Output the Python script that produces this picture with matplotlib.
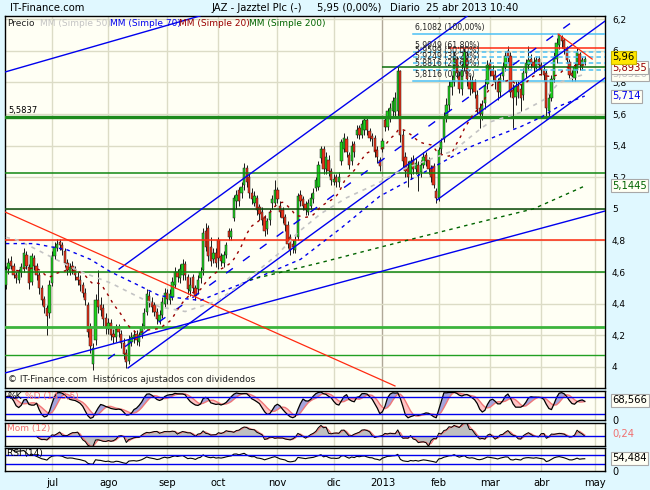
import matplotlib
matplotlib.use('Agg')
import matplotlib.pyplot as plt
import numpy as np
import pandas as pd

plt.rcParams['font.family'] = 'DejaVu Sans'

# ---- data: JAZ daily candles, 6 jun 2012 .. 25 abr 2013 ----
holidays = ['2012-12-25', '2012-12-26', '2013-01-01', '2013-03-29', '2013-04-01']

opens = [4.52, 4.62, 4.67, 4.64, 4.58, 4.55, 4.60, 4.62, 4.71, 4.63,
         4.54, 4.69, 4.64, 4.58, 4.50, 4.43, 4.37, 4.34, 4.53, 4.70,
         4.75, 4.79, 4.77, 4.73, 4.66, 4.60, 4.64, 4.62, 4.57, 4.55,
         4.52, 4.47, 4.39, 4.25, 4.02, 4.17, 4.42, 4.39, 4.37, 4.31,
         4.24, 4.28, 4.21, 4.19, 4.25, 4.21, 4.15, 4.09, 4.04, 4.16,
         4.18, 4.21, 4.16, 4.20, 4.26, 4.35, 4.45, 4.41, 4.39, 4.35,
         4.29, 4.33, 4.40, 4.47, 4.42, 4.44, 4.52, 4.60, 4.56, 4.58,
         4.65, 4.57, 4.48, 4.57, 4.50, 4.49, 4.56, 4.61, 4.86, 4.88,
         4.76, 4.68, 4.72, 4.80, 4.70, 4.66, 4.71, 4.86, 4.82, 4.94,
         5.05, 5.12, 5.10, 5.15, 5.26, 5.20, 5.10, 5.04, 5.07, 5.01,
         4.98, 4.94, 4.87, 4.93, 5.04, 5.04, 5.12, 5.02, 4.99, 4.95,
         4.90, 4.82, 4.78, 4.74, 4.82, 5.09, 5.06, 5.03, 4.98, 5.02,
         5.06, 5.13, 5.14, 5.32, 5.38, 5.25, 5.31, 5.24, 5.17, 5.20,
         5.17, 5.30, 5.38, 5.44, 5.34, 5.30, 5.41, 5.47, 5.51, 5.47,
         5.50, 5.56, 5.49, 5.46, 5.45, 5.37, 5.31, 5.38, 5.56, 5.52,
         5.57, 5.62, 5.61, 5.62, 5.87, 5.47, 5.33, 5.26, 5.22, 5.31,
         5.25, 5.28, 5.23, 5.28, 5.34, 5.31, 5.26, 5.27, 5.11, 5.07,
         5.38, 5.44, 5.59, 5.66, 5.77, 5.80, 5.95, 5.84, 5.76, 5.90,
         5.97, 5.81, 5.76, 5.80, 5.72, 5.64, 5.60, 5.67, 5.79, 5.92,
         5.88, 5.85, 5.81, 5.74, 5.84, 5.90, 6.00, 5.97, 5.75, 5.71,
         5.78, 5.76, 5.72, 5.86, 5.91, 5.95, 5.93, 5.89, 5.95, 5.91,
         5.88, 5.86, 5.62, 5.70, 5.82, 5.95, 6.04, 6.09, 6.07, 6.02,
         5.93, 5.86, 5.83, 5.88, 5.98, 5.90, 5.93]
highs = [4.64, 4.69, 4.70, 4.66, 4.60, 4.62, 4.66, 4.75, 4.73, 4.65,
         4.72, 4.71, 4.66, 4.60, 4.52, 4.45, 4.39, 4.55, 4.73, 4.79,
         4.81, 4.81, 4.79, 4.75, 4.68, 4.66, 4.67, 4.64, 4.60, 4.58,
         4.54, 4.50, 4.41, 4.28, 4.15, 4.46, 4.61, 4.44, 4.40, 4.34,
         4.31, 4.30, 4.24, 4.27, 4.27, 4.23, 4.18, 4.11, 4.20, 4.22,
         4.23, 4.23, 4.22, 4.28, 4.37, 4.49, 4.48, 4.44, 4.41, 4.37,
         4.36, 4.44, 4.50, 4.49, 4.49, 4.57, 4.63, 4.62, 4.65, 4.68,
         4.67, 4.59, 4.57, 4.59, 4.52, 4.58, 4.63, 4.88, 4.91, 4.90,
         4.82, 4.75, 4.75, 4.82, 4.72, 4.73, 4.79, 4.88, 4.88, 5.09,
         5.12, 5.14, 5.17, 5.29, 5.28, 5.22, 5.13, 5.11, 5.09, 5.03,
         5.01, 4.96, 4.94, 5.00, 5.09, 5.18, 5.14, 5.05, 5.01, 4.97,
         4.92, 4.84, 4.80, 4.83, 5.10, 5.12, 5.08, 5.05, 5.06, 5.10,
         5.13, 5.20, 5.30, 5.40, 5.40, 5.36, 5.34, 5.26, 5.22, 5.22,
         5.23, 5.44, 5.48, 5.46, 5.36, 5.43, 5.43, 5.53, 5.53, 5.56,
         5.59, 5.58, 5.51, 5.48, 5.47, 5.40, 5.33, 5.45, 5.58, 5.64,
         5.67, 5.71, 5.74, 5.90, 5.88, 5.50, 5.36, 5.30, 5.33, 5.34,
         5.32, 5.30, 5.31, 5.36, 5.36, 5.33, 5.28, 5.29, 5.13, 5.39,
         5.45, 5.61, 5.70, 5.81, 5.85, 6.00, 5.97, 5.87, 5.92, 6.02,
         6.00, 5.85, 5.84, 5.82, 5.75, 5.67, 5.69, 5.82, 5.94, 5.95,
         5.91, 5.88, 5.83, 5.86, 5.93, 6.00, 6.03, 5.99, 5.79, 5.81,
         5.81, 5.79, 5.89, 5.95, 6.03, 5.98, 5.96, 5.97, 5.97, 5.93,
         5.91, 5.88, 5.73, 5.85, 5.99, 6.08, 6.11, 6.10, 6.08, 6.03,
         5.95, 5.88, 5.92, 6.02, 5.99, 5.96, 5.97]
lows = [4.49, 4.59, 4.62, 4.56, 4.53, 4.53, 4.57, 4.60, 4.62, 4.49,
        4.52, 4.61, 4.55, 4.46, 4.39, 4.34, 4.20, 4.31, 4.51, 4.68,
        4.73, 4.74, 4.71, 4.63, 4.58, 4.58, 4.59, 4.55, 4.52, 4.48,
        4.44, 4.39, 4.19, 4.09, 3.98, 4.14, 4.34, 4.32, 4.26, 4.21,
        4.21, 4.17, 4.15, 4.16, 4.19, 4.12, 4.05, 3.99, 4.02, 4.13,
        4.15, 4.14, 4.13, 4.18, 4.24, 4.33, 4.38, 4.35, 4.32, 4.27,
        4.27, 4.31, 4.38, 4.40, 4.40, 4.42, 4.50, 4.54, 4.53, 4.55,
        4.55, 4.46, 4.45, 4.47, 4.42, 4.46, 4.53, 4.58, 4.73, 4.67,
        4.64, 4.66, 4.63, 4.62, 4.64, 4.63, 4.69, 4.80, 4.80, 4.92,
        5.00, 5.02, 5.07, 5.12, 5.14, 5.07, 5.03, 5.02, 4.96, 4.93,
        4.90, 4.83, 4.84, 4.90, 5.00, 5.02, 5.04, 4.95, 4.91, 4.86,
        4.75, 4.71, 4.72, 4.72, 4.80, 5.02, 4.99, 4.96, 4.96, 5.00,
        5.04, 5.11, 5.12, 5.29, 5.22, 5.22, 5.21, 5.15, 5.15, 5.14,
        5.14, 5.28, 5.36, 5.33, 5.25, 5.28, 5.33, 5.45, 5.44, 5.45,
        5.47, 5.47, 5.43, 5.40, 5.33, 5.29, 5.24, 5.36, 5.49, 5.50,
        5.55, 5.59, 5.58, 5.59, 5.42, 5.26, 5.20, 5.14, 5.19, 5.22,
        5.22, 5.11, 5.20, 5.26, 5.27, 5.22, 5.17, 5.13, 5.04, 5.05,
        5.34, 5.42, 5.55, 5.62, 5.72, 5.78, 5.83, 5.73, 5.72, 5.87,
        5.78, 5.72, 5.73, 5.70, 5.60, 5.51, 5.56, 5.63, 5.76, 5.84,
        5.81, 5.76, 5.69, 5.71, 5.81, 5.87, 5.93, 5.71, 5.51, 5.66,
        5.70, 5.62, 5.69, 5.83, 5.88, 5.89, 5.86, 5.87, 5.88, 5.85,
        5.81, 5.57, 5.59, 5.68, 5.80, 5.92, 6.01, 6.02, 5.98, 5.92,
        5.83, 5.81, 5.81, 5.86, 5.88, 5.88, 5.91]
closes = [4.61, 4.66, 4.64, 4.58, 4.56, 4.60, 4.63, 4.72, 4.64, 4.53,
          4.70, 4.64, 4.58, 4.50, 4.42, 4.38, 4.32, 4.52, 4.70, 4.76,
          4.78, 4.77, 4.74, 4.66, 4.61, 4.63, 4.62, 4.58, 4.55, 4.52,
          4.47, 4.42, 4.22, 4.13, 4.12, 4.42, 4.38, 4.36, 4.30, 4.25,
          4.28, 4.20, 4.19, 4.24, 4.22, 4.15, 4.08, 4.03, 4.17, 4.19,
          4.20, 4.17, 4.20, 4.25, 4.34, 4.46, 4.41, 4.38, 4.35, 4.30,
          4.33, 4.41, 4.47, 4.43, 4.46, 4.54, 4.60, 4.57, 4.62, 4.65,
          4.58, 4.49, 4.52, 4.50, 4.45, 4.55, 4.60, 4.85, 4.76, 4.70,
          4.67, 4.72, 4.66, 4.69, 4.67, 4.71, 4.77, 4.82, 4.86, 5.07,
          5.09, 5.05, 5.14, 5.26, 5.17, 5.10, 5.06, 5.08, 4.99, 4.97,
          4.93, 4.86, 4.92, 4.98, 5.06, 5.12, 5.06, 4.98, 4.94, 4.90,
          4.78, 4.74, 4.76, 4.80, 5.08, 5.05, 5.02, 4.99, 5.04, 5.07,
          5.10, 5.18, 5.28, 5.38, 5.25, 5.33, 5.24, 5.18, 5.19, 5.17,
          5.20, 5.42, 5.45, 5.36, 5.28, 5.40, 5.36, 5.50, 5.47, 5.54,
          5.56, 5.50, 5.45, 5.44, 5.36, 5.33, 5.27, 5.43, 5.52, 5.62,
          5.64, 5.68, 5.70, 5.87, 5.47, 5.30, 5.24, 5.20, 5.30, 5.25,
          5.29, 5.22, 5.28, 5.33, 5.30, 5.25, 5.20, 5.15, 5.07, 5.37,
          5.42, 5.58, 5.66, 5.78, 5.80, 5.97, 5.86, 5.76, 5.88, 5.99,
          5.82, 5.76, 5.80, 5.74, 5.63, 5.60, 5.66, 5.78, 5.91, 5.88,
          5.84, 5.80, 5.74, 5.83, 5.90, 5.97, 5.96, 5.74, 5.70, 5.78,
          5.74, 5.70, 5.86, 5.92, 5.94, 5.92, 5.90, 5.94, 5.91, 5.88,
          5.85, 5.64, 5.70, 5.82, 5.96, 6.05, 6.10, 6.06, 6.01, 5.94,
          5.85, 5.84, 5.90, 5.99, 5.91, 5.94, 5.95]

# moving averages (day index, value)
sma50_idx = [0, 5, 28, 41, 52, 60, 70, 83, 94, 106, 114, 123, 133, 145, 155, 175, 184, 189, 201, 210, 216, 226]
sma50_val = [4.82, 4.80, 4.61, 4.53, 4.44, 4.38, 4.35, 4.42, 4.55, 4.71, 4.85, 4.97, 5.07, 5.16, 5.25, 5.37, 5.49, 5.55, 5.61, 5.69, 5.80, 5.8526]
sma70_idx = [0, 11, 24, 33, 41, 50, 60, 76, 88, 99, 115, 131, 146, 162, 181, 193, 201, 209, 216, 226]
sma70_val = [4.78, 4.78, 4.74, 4.68, 4.60, 4.53, 4.45, 4.42, 4.50, 4.57, 4.68, 4.88, 5.08, 5.22, 5.39, 5.47, 5.52, 5.58, 5.65, 5.714]
sma200_idx = [95, 123, 154, 181, 206, 226]
sma200_val = [4.55, 4.66, 4.79, 4.90, 5.00, 5.1445]

# horizontal levels drawn on the chart (value, first day index)
support_vals = [5.5837, 5.898, 5.227, 5.00, 4.80, 4.60, 4.252, 4.075, 6.018]
support_from = [-1, 147, -1, -1, -1, -1, -1, -1, 172.6]

# fibonacci retracement
fib_hi = 6.1082
fib_lo = 5.8116
fib_ratios = [1.0, 0.618, 0.5, 0.382, 0.236, 0.0]
fib_from = 159

# trend lines (i0, p0, i1, p1)
blue_lines = [(-0.35, 5.866, 75.8, 6.221),
              (44.2, 4.619, 181.2, 6.233),
              (47.7, 3.993, 233.9, 6.188),
              (-0.35, 3.961, 233.9, 4.986),
              (168.3, 5.056, 233.9, 5.829)]
blue_dashed = [(39.9, 4.05, 223.4, 6.21)]
red_lines = [(-0.35, 4.980, 151.9, 3.879),
             (215.6, 6.106, 228.9, 5.948)]

last_price = 5.96
last_sma20 = 5.8935
last_stoch = 68.566
last_mom = 0.24
last_rsi = 54.484

month_names = ['ene', 'feb', 'mar', 'abr', 'may', 'jun', 'jul', 'ago', 'sep', 'oct', 'nov', 'dic']


def coma(v, nd):
    return f'{v:.{nd}f}'.replace('.', ',')


def box(x0, y0, x1, y1):
    return [x0 / 650, 1 - y1 / 490, (x1 - x0) / 650, (y1 - y0) / 490]


BG = '#e0f8ff'
PANEL = '#fffff4'
GRID = '#dcdcc6'
FS = 6.5

o = np.array(opens)
h = np.array(highs)
l = np.array(lows)
c = pd.Series(closes)
x = np.arange(len(closes))

days = pd.bdate_range('2012-06-06', '2013-05-31', freq='C', holidays=holidays)
ticks = [i for i in range(1, len(days)) if days[i].month != days[i - 1].month and i <= 232]
tick_lab = ['2013' if days[i].month == 1 else month_names[days[i].month - 1] for i in ticks]

fig = plt.figure(figsize=(6.5, 4.9), dpi=100, facecolor=BG)
ax = fig.add_axes(box(5, 16, 605, 388))
ax_st = fig.add_axes(box(5, 391, 605, 420))
ax_mo = fig.add_axes(box(5, 423, 605, 446))
ax_rs = fig.add_axes(box(5, 448, 605, 471))

for a in (ax, ax_st, ax_mo, ax_rs):
    a.set_facecolor(PANEL)
    a.set_xlim(-0.35, 233.9)
    for s in a.spines.values():
        s.set_color('black')
        s.set_linewidth(1.0)
    for t in ticks:
        col = '#b0a898' if days[t].month == 1 else GRID
        a.axvline(t, color=col, lw=1.0, zorder=0)
    a.tick_params(length=0, labelsize=FS)
    a.set_xticks([])
    a.yaxis.tick_right()

# ---- main price panel ----
ax.set_ylim(5.5837 - 271.4 / 158, 5.5837 + 100.6 / 158)
for v in np.arange(4.0, 6.21, 0.2):
    ax.axhline(v, color=GRID, lw=1.0, zorder=0)
yt = np.round(np.arange(4.0, 6.21, 0.2), 1)
ax.set_yticks(yt)
ax.set_yticklabels([f'{v:g}'.replace('.', ',') for v in yt])
ax.tick_params(axis='y', pad=5)

ax.vlines(x, l, h, color='#1a1a1a', lw=0.7, zorder=3)
up = c.values >= o
ax.bar(x, np.maximum(np.abs(c.values - o), 0.006), bottom=np.minimum(o, c.values), width=0.9,
       color=np.where(up, '#1ed21e', '#ee3318'), edgecolor='#1a1a1a', linewidth=0.35, zorder=4)

lv_style = [dict(color='#1c8a1c', lw=2.4), dict(color='#0b6e0b', lw=1.1), dict(color='#118811', lw=1.1),
            dict(color='#0a4a0a', lw=1.1), dict(color='#ff2a10', lw=1.1), dict(color='#118811', lw=1.1),
            dict(color='#3cb43c', lw=2.0), dict(color='#22a022', lw=1.0), dict(color='#ff2a10', lw=1.1)]
for v, start, st in zip(support_vals, support_from, lv_style):
    ax.plot([start, 234], [v, v], zorder=5, solid_capstyle='butt', **st)
ax.text(1, 5.5837 + 0.012, coma(5.5837, 4), fontsize=6, va='bottom', ha='left', zorder=8)

for r in fib_ratios:
    v = fib_lo + r * (fib_hi - fib_lo)
    ls = '-' if r in (0.0, 1.0) else (0, (3, 2))
    ax.plot([fib_from, 234], [v, v], color='#4cc0f4', lw=1.1, ls=ls, zorder=5)
    ax.text(fib_from + 0.8, v + 0.012, f'{coma(v, 4)} ({coma(r * 100, 2)}%)', fontsize=5.6,
            va='bottom', ha='left', color='#222222', zorder=8)

for i0, p0, i1, p1 in blue_lines:
    ax.plot([i0, i1], [p0, p1], color='#0000ee', lw=1.0, zorder=5)
for i0, p0, i1, p1 in blue_dashed:
    ax.plot([i0, i1], [p0, p1], color='#0000ee', lw=1.0, ls=(0, (6, 9)), zorder=5)
for i0, p0, i1, p1 in red_lines:
    ax.plot([i0, i1], [p0, p1], color='#ff2a10', lw=0.9, zorder=5)

sma20 = c.rolling(20, min_periods=5).mean()
ax.plot(x, sma20, color='#990000', lw=1.0, ls=(0, (2, 3.5)), zorder=6)
ax.plot(sma50_idx, sma50_val, color='#c4c4c4', lw=1.2, ls=(0, (2.5, 3)), zorder=6)
ax.plot(sma70_idx, sma70_val, color='#0000ee', lw=1.0, ls=(0, (2.5, 3)), zorder=6)
ax.plot(sma200_idx, sma200_val, color='#006400', lw=1.0, ls=(0, (2.5, 3)), zorder=6)

ax.text(1, 3.893, '\u00a9 IT-Finance.com  Hist\u00f3ricos ajustados con dividendos', fontsize=FS,
        ha='left', va='bottom', color='#222222', zorder=8)

ytr = ax.get_yaxis_transform()
bx = dict(boxstyle='square,pad=0.15', fc='#fffff4', ec='#a8a8a8', lw=0.8)
ax.text(1.012, sma200_val[-1], coma(sma200_val[-1], 4), transform=ytr, fontsize=7.2, color='#006400',
        va='center', ha='left', bbox=bx, clip_on=False, zorder=9)
ax.text(1.012, sma70_val[-1], coma(sma70_val[-1], 3), transform=ytr, fontsize=7.2, color='#0000ee',
        va='center', ha='left', bbox=bx, clip_on=False, zorder=9)
ax.text(1.012, sma50_val[-1], coma(sma50_val[-1], 4), transform=ytr, fontsize=7.2, color='#c4c4c4',
        va='center', ha='left', bbox=bx, clip_on=False, zorder=9)
ax.text(1.012, last_sma20, coma(last_sma20, 4), transform=ytr, fontsize=7.2, color='#990000',
        va='center', ha='left', bbox=bx, clip_on=False, zorder=10)
ax.text(1.012, last_price, coma(last_price, 2), transform=ytr, fontsize=7.2, color='black',
        va='center', ha='left', clip_on=False, zorder=11,
        bbox=dict(boxstyle='square,pad=0.15', fc='#ffe600', ec='#c8b400', lw=0.8))

# ---- stochastic ----
ll = pd.Series(lows).rolling(14, min_periods=1).min()
hh = pd.Series(highs).rolling(14, min_periods=1).max()
rawk = 100 * (c - ll) / (hh - ll)
k = rawk.rolling(3, min_periods=1).mean()
d = k.rolling(5, min_periods=1).mean()
ax_st.set_ylim(0, 100)
ax_st.fill_between(x, k, d, where=k >= d, color='#a4a4dc', interpolate=True, lw=0)
ax_st.fill_between(x, k, d, where=k < d, color='#ffc4c4', interpolate=True, lw=0)
ax_st.plot(x, d, color='#f07878', lw=1.0)
ax_st.plot(x, k, color='black', lw=0.9)
for v in (80, 20):
    ax_st.axhline(v, color='#0000ee', lw=1.0)
ax_st.set_yticks([0])
ax_st.set_yticklabels(['0'])
ax_st.tick_params(axis='y', pad=5, labelsize=7)
ax_st.text(0.004, 0.97, '%K', transform=ax_st.transAxes, fontsize=FS, va='top', color='black')
ax_st.text(0.034, 0.97, '%D (14,3,5)', transform=ax_st.transAxes, fontsize=FS, va='top', color='#f07070')
ax_st.text(1.012, last_stoch, coma(last_stoch, 3), transform=ax_st.get_yaxis_transform(), fontsize=7.2,
           va='center', ha='left', bbox=bx, clip_on=False, zorder=9)

# ---- momentum ----
mom = c - c.shift(12)
ax_mo.set_ylim(-0.6, 0.78)
ax_mo.fill_between(x, mom, 0, color='#c0c0c0', lw=0)
ax_mo.plot(x, mom.rolling(2, min_periods=1).mean(), color='#f07878', lw=1.0)
ax_mo.plot(x, mom, color='black', lw=0.7)
ax_mo.axhline(0, color='#0000ee', lw=1.0)
ax_mo.set_yticks([])
ax_mo.text(0.004, 0.96, 'Mom (12)', transform=ax_mo.transAxes, fontsize=FS, va='top', color='#f07070')
ax_mo.text(1.012, 0.13, coma(last_mom, 2), transform=ax_mo.get_yaxis_transform(), fontsize=7.2,
           va='center', ha='left', color='#f07070', clip_on=False)

# ---- RSI ----
delta = c.diff()
gain = delta.clip(lower=0).ewm(alpha=1 / 14, adjust=False).mean()
loss = (-delta.clip(upper=0)).ewm(alpha=1 / 14, adjust=False).mean()
rsi = 100 - 100 / (1 + gain / loss)
ax_rs.set_ylim(0, 100)
ax_rs.plot(x, rsi, color='black', lw=0.8)
for v in (70, 30):
    ax_rs.axhline(v, color='#0000ee', lw=1.0)
ax_rs.set_yticks([0])
ax_rs.set_yticklabels(['0'])
ax_rs.tick_params(axis='y', pad=5, labelsize=7)
ax_rs.text(0.004, 0.96, 'RSI (14)', transform=ax_rs.transAxes, fontsize=FS, va='top', color='black')
ax_rs.text(1.012, last_rsi, coma(last_rsi, 3), transform=ax_rs.get_yaxis_transform(), fontsize=7.2,
           va='center', ha='left', bbox=bx, clip_on=False, zorder=9)
ax_rs.set_xticks(ticks)
ax_rs.set_xticklabels(tick_lab)
ax_rs.tick_params(axis='x', pad=5, labelsize=7.2)

# ---- header texts ----
fig.text(10 / 650, 1 - 8 / 490, 'IT-Finance.com', fontsize=7.2, va='center', ha='left')
fig.text(212 / 650, 1 - 8 / 490, 'JAZ - Jazztel Plc (-)', fontsize=7.2, va='center', ha='left')
fig.text(317 / 650, 1 - 8 / 490, '5,95 (0,00%)', fontsize=7.2, va='center', ha='left')
fig.text(390 / 650, 1 - 8 / 490, 'Diario  25 abr 2013 10:40', fontsize=7.2, va='center', ha='left')

legend = [('Precio', '#222222', 7), ('MM (Simple 50)', '#c4c4c4', 40), ('MM (Simple 70)', '#0000ee', 110),
          ('MM (Simple 20)', '#990000', 179), ('MM (Simple 200)', '#006400', 249)]
for txt, col, px in legend:
    fig.text(px / 650, 1 - 23 / 490, txt, fontsize=FS, color=col, va='center', ha='left')

fig.savefig('out.png', dpi=100, facecolor=BG)
